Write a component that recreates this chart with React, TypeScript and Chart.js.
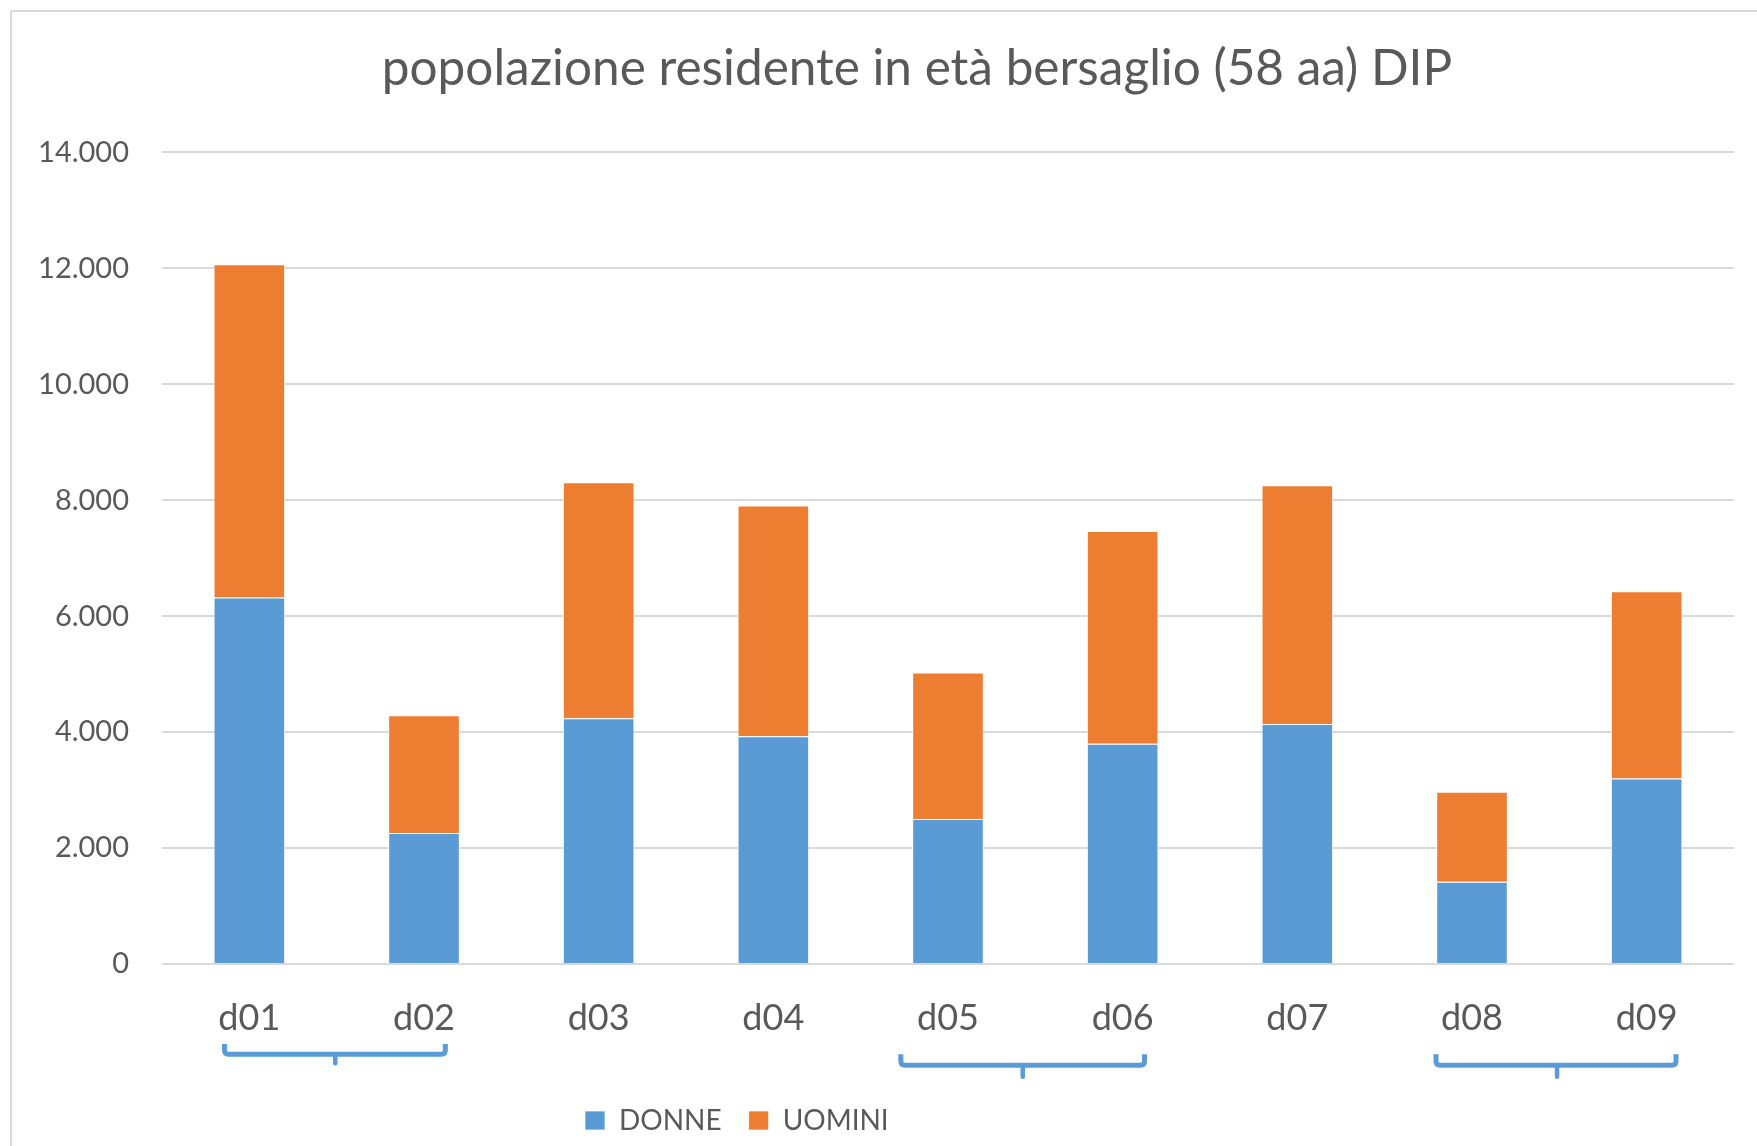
import { useEffect, useRef } from 'react';
import { Chart, registerables } from 'chart.js';

Chart.register(...registerables);

const TITLE = 'popolazione residente in età bersaglio (58 aa) DIP';
const CATEGORIES = ['d01', 'd02', 'd03', 'd04', 'd05', 'd06', 'd07', 'd08', 'd09'];
const SERIES_NAMES = ['DONNE', 'UOMINI'];
const DONNE = [6320, 2260, 4240, 3930, 2500, 3800, 4140, 1420, 3200];
const UOMINI = [5750, 2030, 4070, 3980, 2530, 3670, 4120, 1550, 3230];
const Y_TICKS = [0, 2000, 4000, 6000, 8000, 10000, 12000, 14000];
// category groups marked with braces under the axis: [from, to, middle] in category index units
const BRACE_GROUPS = [
  [-0.142, 1.122, 0.492],
  [3.73, 5.125, 4.428],
  [6.794, 8.168, 7.487],
];

const FONT = "Lato, 'Noto Sans', sans-serif";
const TEXT_COLOR = '#595959';
const BLUE = '#5B9BD5';
const ORANGE = '#ED7D31';

const fmt = (v: number) => String(v).replace(/\B(?=(\d{3})+(?!\d))/g, '.');

const layoutPlugin = {
  id: 'placeBoxes',
  afterLayout(chart: any) {
    const lg = chart.legend;
    if (lg) {
      const h = lg.bottom - lg.top;
      const w = lg.right - lg.left;
      const pad = lg.options.labels.padding;
      lg.left = 585 - pad;
      lg.right = lg.left + w;
      lg.top = 1106.5 - pad;
      lg.bottom = lg.top + h;
    }
    const t = chart.titleBlock;
    if (t) {
      const c = (t.left + t.right) / 2;
      const dx = 917 - c;
      t.left += dx;
      t.right += dx;
    }
  },
};

const bracePlugin = {
  id: 'braces',
  afterDraw(chart: any) {
    const ctx = chart.ctx;
    const xs = chart.scales.x;
    const base = chart.chartArea.bottom;
    const ys = [
      [80, 90.3, 101.7],
      [90.3, 101.3, 115.3],
      [90.3, 101.3, 115.3],
    ];
    ctx.save();
    ctx.strokeStyle = BLUE;
    ctx.lineJoin = 'round';
    BRACE_GROUPS.forEach((g, i) => {
      const x0 = xs.getPixelForValue(g[0]);
      const x1 = xs.getPixelForValue(g[1]);
      const xm = xs.getPixelForValue(g[2]);
      const [top, line, tip] = ys[i].map((v) => base + v);
      const r = 4;
      ctx.lineCap = 'butt';
      ctx.lineWidth = 5;
      ctx.beginPath();
      ctx.moveTo(x0, top);
      ctx.lineTo(x0, line - r);
      ctx.quadraticCurveTo(x0, line, x0 + r, line);
      ctx.lineTo(x1 - r, line);
      ctx.quadraticCurveTo(x1, line, x1, line - r);
      ctx.lineTo(x1, top);
      ctx.stroke();
      ctx.lineCap = 'round';
      ctx.lineWidth = 4.5;
      ctx.beginPath();
      ctx.moveTo(xm, line);
      ctx.lineTo(xm, tip - 2.5);
      ctx.stroke();
    });
    ctx.restore();
  },
};

export default function App() {
  const ref = useRef<HTMLCanvasElement | null>(null);

  useEffect(() => {
    if (!ref.current) return;
    const chart = new Chart(ref.current, {
      type: 'bar',
      data: {
        labels: CATEGORIES,
        datasets: [
          {
            label: SERIES_NAMES[0],
            data: DONNE,
            backgroundColor: BLUE,
            borderColor: 'rgba(255,255,255,0.7)',
            borderWidth: 1,
            barPercentage: 0.41,
            categoryPercentage: 1,
          },
          {
            label: SERIES_NAMES[1],
            data: UOMINI,
            backgroundColor: ORANGE,
            borderColor: 'rgba(255,255,255,0.7)',
            borderWidth: 1,
            barPercentage: 0.41,
            categoryPercentage: 1,
          },
        ],
      },
      options: {
        responsive: false,
        animation: false,
        devicePixelRatio: 1,
        layout: { padding: { left: 0, right: 23, top: 0, bottom: 0 } },
        plugins: {
          title: {
            display: true,
            text: TITLE,
            color: TEXT_COLOR,
            font: { family: FONT, size: 49.5, weight: 'normal', lineHeight: 1.2 },
            padding: { top: 39, bottom: 54 },
          },
          legend: {
            display: true,
            position: 'bottom',
            align: 'start',
            labels: {
              color: TEXT_COLOR,
              font: { family: FONT, size: 28 },
              boxWidth: 20,
              boxHeight: 19,
              padding: 27,
            },
          },
          tooltip: { enabled: false },
        },
        scales: {
          x: {
            stacked: true,
            grid: { display: false, drawTicks: false },
            border: { display: false },
            ticks: {
              color: TEXT_COLOR,
              font: { family: FONT, size: 36 },
              padding: 32.5,
              maxRotation: 0,
            },
            afterFit: (s: any) => {
              s.height = 117;
            },
          },
          y: {
            stacked: true,
            min: 0,
            max: 14000,
            grid: { color: '#d9d9d9', lineWidth: 2, drawTicks: false },
            border: { display: false },
            ticks: {
              color: TEXT_COLOR,
              font: { family: FONT, size: 29 },
              padding: 33,
              callback: (v: any) => fmt(Number(v)),
            },
            afterBuildTicks: (s: any) => {
              s.ticks = Y_TICKS.map((v) => ({ value: v }));
            },
            afterFit: (s: any) => {
              s.width = 162;
            },
          },
        },
      },
      plugins: [layoutPlugin, bracePlugin],
    });
    return () => chart.destroy();
  }, []);

  return (
    <div
      style={{
        position: 'absolute',
        left: 0,
        top: 0,
        width: 1757,
        height: 1146,
        overflow: 'hidden',
        background: '#fff',
      }}
    >
      <div
        style={{
          position: 'absolute',
          left: 10,
          top: 10,
          width: 1800,
          height: 1200,
          border: '2px solid #d9d9d9',
        }}
      />
      <canvas
        ref={ref}
        width={1757}
        height={1146}
        style={{ position: 'absolute', left: 0, top: 0, display: 'block' }}
      />
    </div>
  );
}
